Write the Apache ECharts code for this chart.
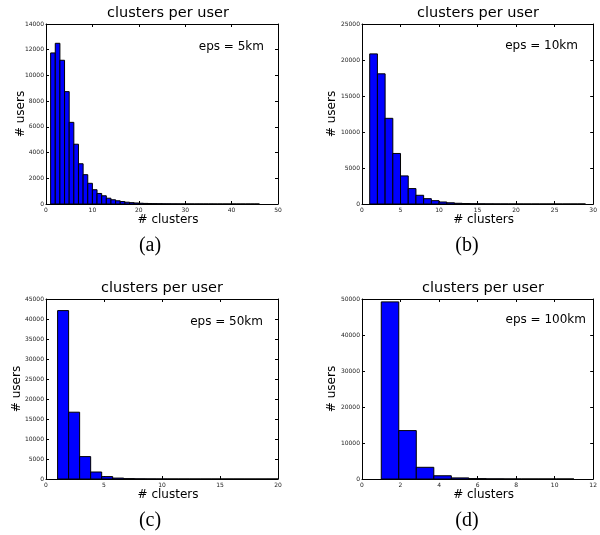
<!DOCTYPE html>
<html>
<head>
<meta charset="utf-8">
<script src="https://cdn.jsdelivr.net/npm/echarts@6/dist/echarts.min.js"></script>
<style>html,body{margin:0;padding:0;background:#fff}#c{width:600px;height:535px}</style>
</head>
<body>
<div id="c"></div>
<script>
// ---- data ----
const panelTitles = ['clusters per user', 'clusters per user', 'clusters per user', 'clusters per user'];
const epsLabels = ['eps = 5km', 'eps = 10km', 'eps = 50km', 'eps = 100km'];
const subCaptions = ['(a)', '(b)', '(c)', '(d)'];
const xAxisName = '# clusters';
const yAxisName = '# users';

// bins: first edge and width of each histogram
const binStartA = 1, binWidthA = 1;
const countsA = [11750, 12500, 11180, 8740, 6350, 4650, 3130, 2280, 1610, 1110,
  820, 640, 450, 330, 250, 190, 140, 105, 80, 60,
  45, 35, 28, 22, 17, 14, 11, 9, 7, 6,
  5, 4, 4, 3, 3, 2, 2, 2, 1, 1, 1, 1, 1, 1, 1];
const binStartB = 1, binWidthB = 1;
const countsB = [20850, 18080, 11900, 7020, 3900, 2140, 1210, 740, 465, 280,
  170, 100, 65, 40, 28, 18, 12, 9, 6, 5, 4, 3, 2, 2, 1, 1, 1, 1];
const binStartC = 1, binWidthC = 0.95;
const countsC = [42100, 16700, 5600, 1750, 600, 230, 90, 40, 20, 10,
  5, 3, 2, 1, 1, 1, 1, 0, 0, 1];
const binStartD = 1, binWidthD = 10 / 11;
const countsD = [49200, 13450, 3250, 900, 300, 100, 35, 12, 5, 2, 1];

const xMaxs = [50, 30, 20, 12];
const xSteps = [10, 5, 5, 2];
const yMaxs = [14000, 25000, 45000, 50000];
const ySteps = [2000, 5000, 5000, 10000];

// ---- layout / style ----
const FONT = 'DejaVu Sans';
const grids = [
  {left: 46, top: 24, width: 232, height: 180},
  {left: 362, top: 24, width: 232, height: 180},
  {left: 46, top: 299, width: 232, height: 180},
  {left: 362, top: 299, width: 232, height: 180}
];
const yNameGaps = [19, 24, 23, 24];
const titlePos = [[168, 13], [478, 13], [162, 288], [483, 288]];
const epsPos = [[264, 47], [578, 46], [263, 322], [586, 320]];
const capPos = [[150, 246], [467, 246], [150, 521], [467, 521]];

const panels = [
  {start: binStartA, w: binWidthA, counts: countsA},
  {start: binStartB, w: binWidthB, counts: countsB},
  {start: binStartC, w: binWidthC, counts: countsC},
  {start: binStartD, w: binWidthD, counts: countsD}
];

const tick = {inside: true, length: 3, lineStyle: {color: '#000', width: 1}};
const line = {onZero: false, lineStyle: {color: '#000', width: 1}};
const lab = {fontSize: 6, color: '#222', fontFamily: FONT, formatter: v => String(v)};

const xAxis = [], yAxis = [], series = [], graphic = [];
panels.forEach((p, i) => {
  xAxis.push({
    gridIndex: i, type: 'value', min: 0, max: xMaxs[i], interval: xSteps[i], position: 'bottom',
    axisLine: line, axisTick: tick, splitLine: {show: false},
    axisLabel: Object.assign({margin: 3}, lab),
    name: xAxisName, nameLocation: 'middle', nameGap: 8,
    nameTextStyle: {fontSize: 12, color: '#000', fontFamily: FONT, padding: [0, 0, 0, 12]}
  });
  xAxis.push({
    gridIndex: i, type: 'value', min: 0, max: xMaxs[i], interval: xSteps[i], position: 'top',
    axisLine: line, axisTick: tick, splitLine: {show: false}, axisLabel: {show: false}
  });
  yAxis.push({
    gridIndex: i, type: 'value', min: 0, max: yMaxs[i], interval: ySteps[i], position: 'left',
    axisLine: line, axisTick: tick, splitLine: {show: false},
    axisLabel: Object.assign({margin: 2}, lab),
    name: yAxisName, nameLocation: 'middle', nameGap: yNameGaps[i], nameMoveOverlap: false,
    nameTextStyle: {fontSize: 12, color: '#000', fontFamily: FONT}
  });
  yAxis.push({
    gridIndex: i, type: 'value', min: 0, max: yMaxs[i], interval: ySteps[i], position: 'right',
    axisLine: line, axisTick: tick, splitLine: {show: false}, axisLabel: {show: false}
  });
  series.push({
    type: 'custom',
    xAxisIndex: 2 * i, yAxisIndex: 2 * i,
    data: p.counts.map((c, k) => [p.start + k * p.w, p.start + (k + 1) * p.w, c]),
    encode: {x: [0, 1], y: 2},
    renderItem: function (params, api) {
      const a = api.coord([api.value(0), 0]);
      const b = api.coord([api.value(1), api.value(2)]);
      return {
        type: 'rect',
        shape: {x: a[0], y: b[1], width: b[0] - a[0], height: a[1] - b[1]},
        style: {fill: '#0000ff', stroke: '#000', lineWidth: 1}
      };
    }
  });
  graphic.push({type: 'text', x: titlePos[i][0], y: titlePos[i][1],
    style: {text: panelTitles[i], font: '14.5px "DejaVu Sans"', fill: '#000', align: 'center', verticalAlign: 'middle'}});
  graphic.push({type: 'text', x: epsPos[i][0], y: epsPos[i][1],
    style: {text: epsLabels[i], font: '12px "DejaVu Sans"', fill: '#000', align: 'right', verticalAlign: 'middle'}});
  graphic.push({type: 'text', x: capPos[i][0], y: capPos[i][1],
    style: {text: subCaptions[i], font: '20px "Liberation Serif"', fill: '#000', align: 'center', verticalAlign: 'middle'}});
});

const chart = echarts.init(document.getElementById('c'), null, {renderer: 'canvas'});
chart.setOption({
  animation: false,
  backgroundColor: '#fff',
  grid: grids,
  xAxis: xAxis,
  yAxis: yAxis,
  series: series,
  graphic: graphic
});
</script>
</body>
</html>
